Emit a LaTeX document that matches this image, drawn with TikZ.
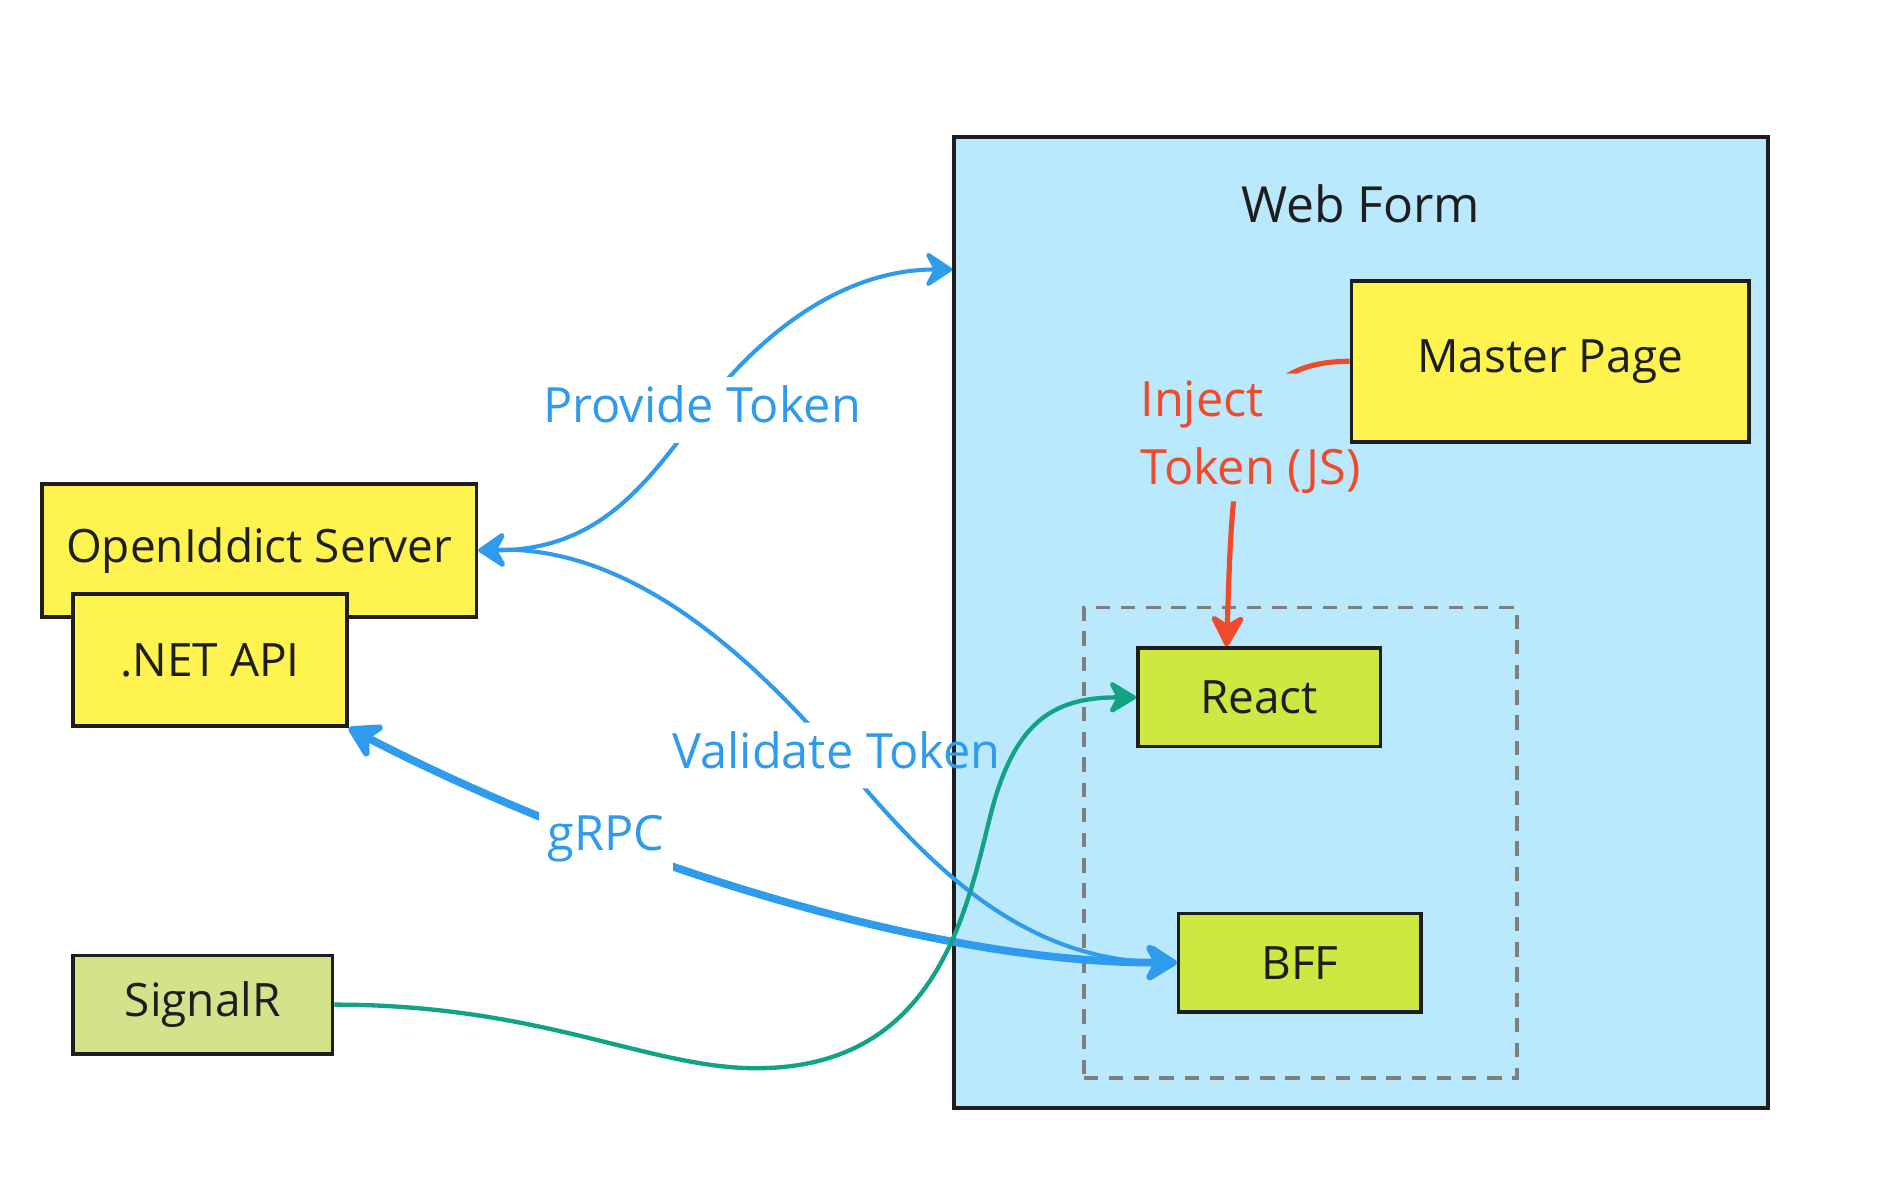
\documentclass[tikz,border=0pt]{standalone}
\usepackage{fontspec}
\setmainfont{Open Sans}
\usetikzlibrary{arrows.meta}
\definecolor{wfblue}{HTML}{BAE8FD}
\definecolor{ylw}{HTML}{FFF44F}
\definecolor{lime}{HTML}{CEE741}
\definecolor{sage}{HTML}{D4E38B}
\definecolor{arrblue}{HTML}{2F9BEC}
\definecolor{arrgreen}{HTML}{12A384}
\definecolor{arrred}{HTML}{F04A2A}
\definecolor{ink}{HTML}{1E1E1E}
\definecolor{dashgray}{HTML}{7F7F7F}
\pgfdeclarelayer{background}
\pgfdeclarelayer{edges}
\pgfsetlayers{background,edges,main}
\newcommand\gapclip[1]{\clip (-200,-200) -- (1800,-200) -- (1800,1200) -- (-200,1200) -- cycle
  (#1.south west) -- (#1.south east) -- (#1.north east) -- (#1.north west) -- cycle;}
\tikzset{
  bluetip/.tip={Stealth[length=26pt,width=34pt,inset=9pt,round]},
  grpctip/.tip={Stealth[length=32pt,width=38pt,inset=10pt,round]},
  greentip/.tip={Stealth[length=26pt,width=31pt,inset=8pt,round]},
  redtip/.tip={Stealth[length=31pt,width=33pt,inset=10pt,round]},
  nodefont/.style={font=\fontsize{38.3pt}{46pt}\selectfont},
  labfont/.style={font=\fontsize{40.5pt}{56.6pt}\selectfont},
  box/.style={draw=ink, line width=3pt, text=ink, nodefont, inner sep=0pt},
  yellowbox/.style={box, fill=ylw},
  limebox/.style={box, fill=lime},
  sagebox/.style={box, fill=sage},
  lab/.style={labfont, inner sep=7pt, text height=30.8pt, text depth=9.7pt},
  bluelab/.style={lab, text=arrblue},
  thinblue/.style={draw=arrblue, line width=3.4pt},
  thickblue/.style={draw=arrblue, line width=6.5pt},
  greenline/.style={draw=arrgreen, line width=3.6pt},
  redline/.style={draw=arrred, line width=4.3pt},
}
\begin{document}
\begin{tikzpicture}[x=1pt,y=-1pt]
\useasboundingbox (0,0) rectangle (1568,995.6);
\begin{pgfonlayer}{background}
  \fill[white] (0,0) rectangle (1568,995.6);
  \node[draw=ink, fill=wfblue, line width=3pt, minimum width=678pt, minimum height=809pt, inner sep=0pt] (web) at (1134,518.5) {};
  \node[draw=dashgray, dash pattern=on 12pt off 9pt, line width=3pt, minimum width=361pt, minimum height=392pt, inner sep=0pt] (grp) at (1083.5,702) {};
\end{pgfonlayer}

% nodes
\node[font=\fontsize{41.5pt}{50pt}\selectfont, text=ink, anchor=base] (wftitle) at (1133.5,185.2) {Web Form};
\node[yellowbox, minimum width=331pt, minimum height=134pt] (mp) at (1291.5,301) {Master Page};
\node[yellowbox, minimum width=362pt, minimum height=111pt] (oid) at (216,458.5) {OpenIddict Server};
\node[yellowbox, minimum width=228pt, minimum height=110pt] (net) at (175,550) {.NET API};
\node[sagebox, minimum width=216pt, minimum height=82pt] (sig) at (169,837) {SignalR};
\node[limebox, minimum width=202pt, minimum height=82pt] (react) at (1049,581) {React};
\node[limebox, minimum width=202pt, minimum height=82pt] (bff) at (1083,802) {BFF};

% labels
\node[bluelab, anchor=base] (ptlab) at (585,352) {Provide Token};
\node[bluelab, anchor=base] (vtlab) at (697,640) {Validate Token};
\node[bluelab, anchor=base] (grlab) at (505,709) {gRPC};
\node[labfont, text=arrred, align=left, inner sep=6pt, anchor=west] (injlab) at (944,364.5) {Inject\\Token (JS)};

% helper coordinates
\coordinate (wfin) at ([yshift=-112pt]web.north west);
\coordinate (rin) at ([xshift=-27pt]react.north);
\coordinate (gw1) at (630,890);
\coordinate (gw2) at (825,680);

\begin{pgfonlayer}{edges}
  \begin{scope}
    \gapclip{ptlab}
    \draw[thinblue, {bluetip}-{bluetip}] (oid.east) .. controls +(103,0) and +(-45,59) .. (ptlab.center)
      .. controls +(45,-59) and +(-95,0) .. (wfin);
  \end{scope}
  \begin{scope}
    \gapclip{vtlab}
    \draw[thinblue, {bluetip}-{bluetip}] (oid.east) .. controls +(123,-4) and +(-78,-90) .. (vtlab.center)
      .. controls +(62,72) and +(-142,-2) .. (bff.west);
  \end{scope}
  \begin{scope}
    \gapclip{grlab}
    \draw[thickblue, {grpctip}-{grpctip}] (net.south east) .. controls +(191,99) and +(-222,0) .. (bff.west);
  \end{scope}
  \begin{scope}
    \gapclip{injlab}
    \draw[redline, -{redtip}] (mp.west) .. controls +(-96,0) and +(5,-158) .. (rin);
  \end{scope}
  \draw[greenline, -{greentip}] (sig.east) .. controls +(173,0) and +(-90,0) .. (gw1)
    .. controls +(150,0) and +(-20,80) .. (gw2)
    .. controls +(20,-80) and +(-68,0) .. (react.west);
\end{pgfonlayer}
\end{tikzpicture}
\end{document}
